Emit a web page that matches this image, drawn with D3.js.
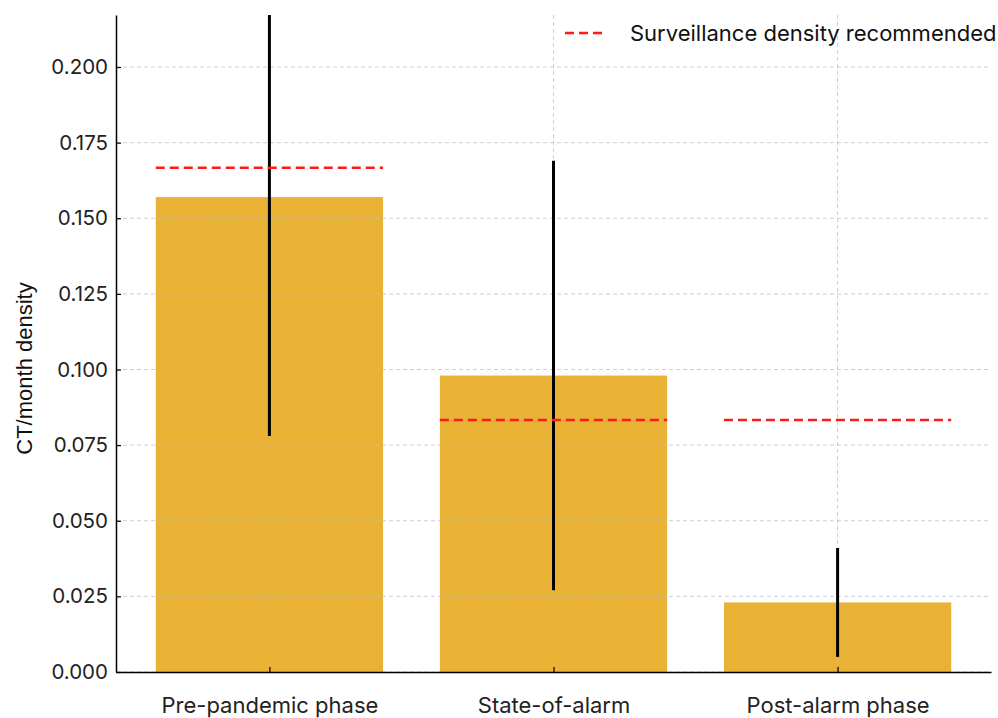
<!DOCTYPE html>
<html><head><meta charset="utf-8">
<script src="https://cdn.jsdelivr.net/npm/d3@7"></script>
<style>body{margin:0;background:#fff;} svg{display:block;}</style>
</head><body>
<svg id="chart" width="998" height="718"></svg>
<script>
const categories = ["Pre-pandemic phase", "State-of-alarm", "Post-alarm phase"];
const density = [0.157, 0.098, 0.023];
const errors = [0.079, 0.071, 0.018];
const recommended = [0.1667, 0.0833, 0.0833];
const yTicks = [0, 0.025, 0.05, 0.075, 0.1, 0.125, 0.15, 0.175, 0.2];
const yLabel = "CT/month density";
const legendLabel = "Surveillance density recommended";

const svg = d3.select("#chart");
const m = {left:116, top:15, right:7, bottom:46};
const W = 998, H = 718;
const x0 = m.left, x1 = W - m.right, yTop = m.top, yBot = H - m.bottom;

const x = d3.scaleLinear().domain([-0.54, 2.54]).range([x0, x1]);
const y = d3.scaleLinear().domain([0, 0.2172]).range([yBot, yTop]);
const bw = 0.8;

svg.append("defs").append("clipPath").attr("id","clip")
  .append("rect").attr("x",x0).attr("y",yTop).attr("width",x1-x0).attr("height",yBot-yTop);

const g = svg.append("g").attr("clip-path","url(#clip)");

// bars
g.selectAll("rect.bar").data(density).enter().append("rect")
  .attr("x",(d,i)=>x(i-bw/2)).attr("width",(d,i)=>x(i+bw/2)-x(i-bw/2))
  .attr("y",d=>y(d)).attr("height",d=>y(0)-y(d))
  .attr("fill","#E9B234");

// grid
const grid = g.append("g");
grid.selectAll("line.h").data(yTicks).enter().append("line")
  .attr("x1",x0).attr("x2",x1).attr("y1",d=>y(d)).attr("y2",d=>y(d))
  .attr("stroke","#bbbbbb").attr("stroke-opacity",0.7).attr("stroke-width",1).attr("stroke-dasharray","4,3");
grid.selectAll("line.v").data(categories).enter().append("line")
  .attr("x1",(d,i)=>x(i)).attr("x2",(d,i)=>x(i)).attr("y1",yTop).attr("y2",yBot)
  .attr("stroke","#bbbbbb").attr("stroke-opacity",0.7).attr("stroke-width",1).attr("stroke-dasharray","4,3");

// error bars
g.selectAll("line.err").data(density).enter().append("line")
  .attr("x1",(d,i)=>x(i)).attr("x2",(d,i)=>x(i))
  .attr("y1",(d,i)=>y(d+errors[i])).attr("y2",(d,i)=>y(d-errors[i]))
  .attr("stroke","#000").attr("stroke-width",3);

// recommended lines
g.selectAll("line.rec").data(recommended).enter().append("line")
  .attr("x1",(d,i)=>x(i-bw/2)).attr("x2",(d,i)=>x(i+bw/2))
  .attr("y1",d=>y(d)).attr("y2",d=>y(d))
  .attr("stroke","#ff1a1a").attr("stroke-width",2.5).attr("stroke-dasharray","9,5");

// axes
const yAxis = d3.axisLeft(y).tickValues(yTicks).tickFormat(d3.format(".3f")).tickSizeInner(-5).tickSizeOuter(0).tickPadding(8);
const ya = svg.append("g").attr("transform",`translate(${x0},0)`).call(yAxis);
ya.select(".domain").attr("stroke","#000").attr("stroke-width",1.5);
ya.selectAll(".tick line").attr("stroke","#000").attr("stroke-width",1.2);
ya.selectAll("text").attr("font-family","Inter, 'DejaVu Sans', sans-serif").attr("font-size",20.5).attr("fill","#222");

const xAxis = d3.axisBottom(x).tickValues([0,1,2]).tickFormat(i=>categories[i]).tickSizeInner(-5).tickSizeOuter(0).tickPadding(25);
const xa = svg.append("g").attr("transform",`translate(0,${yBot})`).call(xAxis);
xa.select(".domain").attr("stroke","#000").attr("stroke-width",1.5);
xa.selectAll(".tick line").attr("stroke","#000").attr("stroke-width",1.2);
xa.selectAll("text").attr("font-family","Inter, 'DejaVu Sans', sans-serif").attr("font-size",22).attr("fill","#222");

// y label
svg.append("text").attr("transform",`translate(32,${(yTop+yBot)/2+25}) rotate(-90)`)
  .attr("text-anchor","middle").attr("font-family","'Liberation Sans', Arial, sans-serif")
  .attr("font-size",22).attr("fill","#111").text(yLabel);

// legend
const lg = svg.append("g");
lg.append("line").attr("x1",565).attr("x2",603).attr("y1",33).attr("y2",33)
  .attr("stroke","#ff1a1a").attr("stroke-width",2.5).attr("stroke-dasharray","9,5");
lg.append("text").attr("x",630).attr("y",41).attr("font-family","Inter, 'DejaVu Sans', sans-serif")
  .attr("font-size",22).attr("fill","#111").text(legendLabel);
</script>
</body></html>
